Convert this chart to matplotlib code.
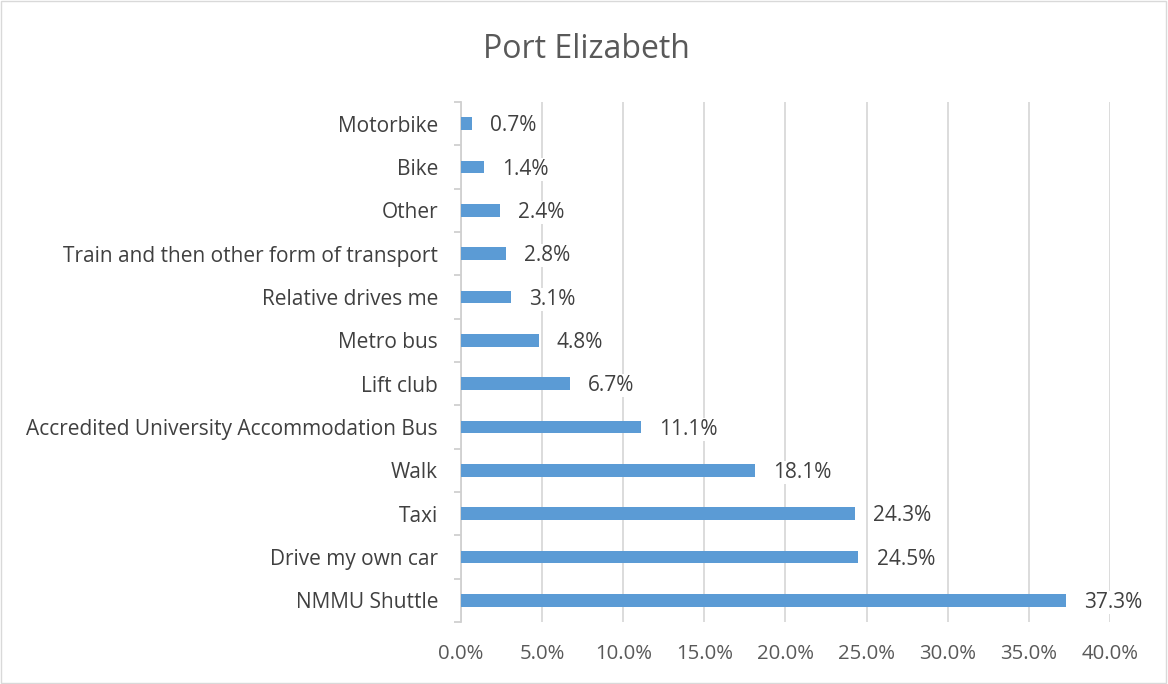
import matplotlib.pyplot as plt
import numpy as np
from matplotlib.patches import Rectangle
from matplotlib.ticker import FuncFormatter

categories = ['NMMU Shuttle', 'Drive my own car', 'Taxi', 'Walk',
              'Accredited University Accommodation Bus', 'Lift club', 'Metro bus',
              'Relative drives me', 'Train and then other form of transport',
              'Other', 'Bike', 'Motorbike']
values = [37.3, 24.5, 24.3, 18.1, 11.1, 6.7, 4.8, 3.1, 2.8, 2.4, 1.4, 0.7]
x_ticks = [0, 5, 10, 15, 20, 25, 30, 35, 40]

plt.rcParams['font.family'] = ['Open Sans', 'DejaVu Sans']

fig = plt.figure(figsize=(11.68, 6.84), dpi=100)
ax = fig.add_axes([0.3947, 0.0906, 0.5556, 0.7603])

ypos = np.arange(len(categories))
ax.barh(ypos, values, height=0.29, color='#5B9BD5', zorder=3)

# value labels sit on a white box so the gridlines break behind them
for y, v in zip(ypos, values):
    ax.annotate(f'{v:.1f}%', (v, y), xytext=(13, -1.5), textcoords='offset points',
                va='center', ha='left', fontsize=15, color='#404040', zorder=4,
                bbox=dict(boxstyle='square,pad=0.05', fc='white', ec='none'))

ax.set_xlim(0, 40)
ax.set_ylim(-0.5, len(categories) - 0.5)
ax.set_xticks(x_ticks)
ax.xaxis.set_major_formatter(FuncFormatter(lambda x, p: f'{x:.1f}%'))
ax.set_yticks(ypos)
ax.set_yticklabels(categories)
ax.set_yticks(np.arange(-0.5, len(categories), 1), minor=True)

ax.grid(axis='x', color='#D9D9D9', linewidth=1.3, zorder=0)
for s in ['top', 'right', 'bottom']:
    ax.spines[s].set_visible(False)
ax.spines['left'].set_color('#D0D0D0')
ax.spines['left'].set_linewidth(1.3)

ax.tick_params(axis='y', which='major', length=0, pad=16.5, labelsize=15, labelcolor='#404040')
ax.tick_params(axis='y', which='minor', length=5, width=1.3, color='#D0D0D0')
ax.tick_params(axis='x', length=0, pad=16, labelsize=14.7, labelcolor='#595959')

fig.text(0.5025, 0.927, 'Port Elizabeth', ha='center', va='center', fontsize=23, color='#595959')
fig.patches.append(Rectangle((0.001, 0.001), 0.997, 0.997, transform=fig.transFigure,
                             fill=False, ec='#D9D9D9', lw=1))

fig.savefig('out.png', dpi=100)
